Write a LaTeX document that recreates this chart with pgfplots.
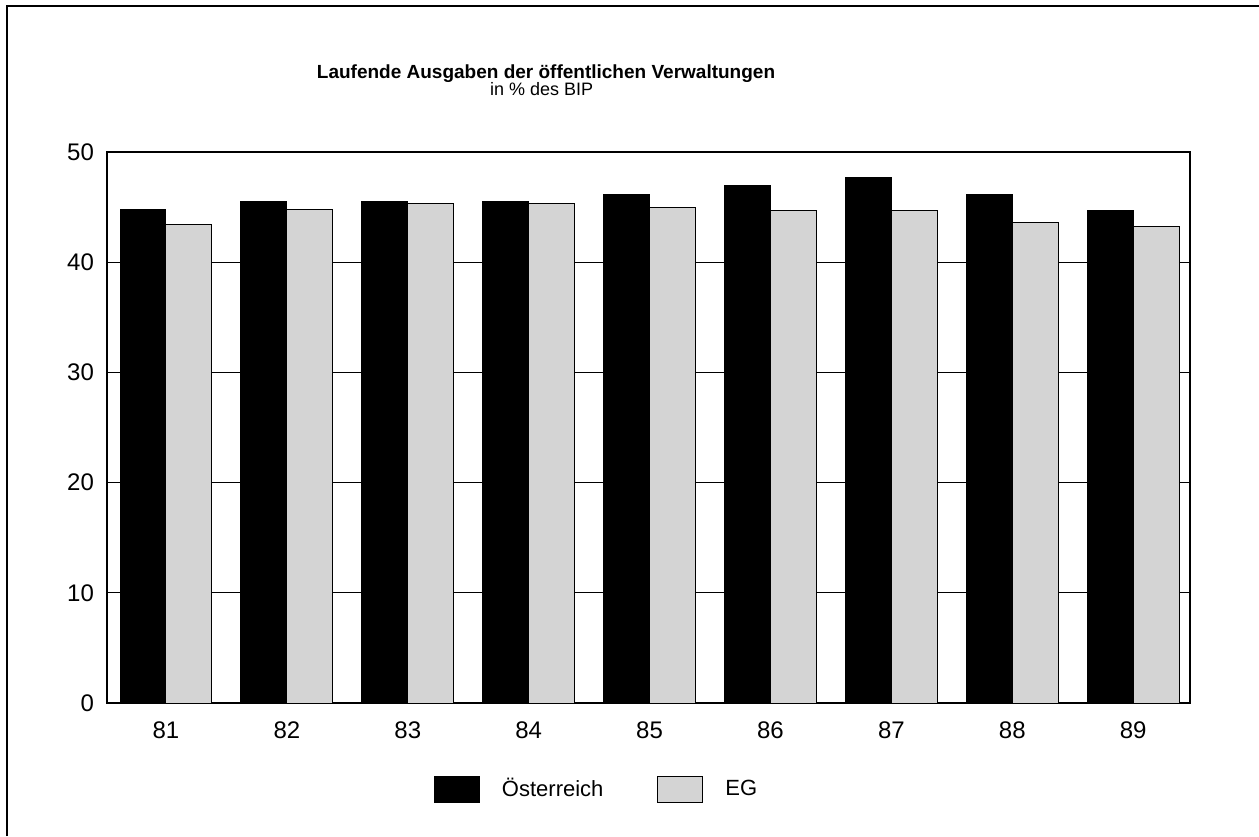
\documentclass[border=0pt]{standalone}
\usepackage{fontspec}
\setmainfont{Liberation Sans}
\usepackage{pgfplots}
\pgfplotsset{compat=1.18}
\begin{document}
\begin{tikzpicture}
\begin{axis}[
 scale only axis, width=541.5pt, height=275.5pt,
 at={(0,0)}, anchor=south west,
 ybar=0pt, bar width=0.38,
 xmin=-0.488, xmax=8.47, ymin=0, ymax=50,
 xtick={0,1,2,3,4,5,6,7,8},
 xticklabels={81,82,83,84,85,86,87,88,89},
 ytick={0,10,20,30,40,50},
 ymajorgrids, grid style={black, line width=0.5pt},
 major tick length=0pt,
 axis line style={line width=0.75pt},
 tick label style={font=\fontsize{12}{14}\selectfont},
 /pgf/number format/assume math mode=true,
 yticklabel style={xshift=-3pt},
 xticklabel style={yshift=-6pt},
 legend columns=2,
 legend style={at={(0.453,0)}, anchor=center, yshift=-43pt, draw=none,
   font=\fontsize{11}{13}\selectfont,
   /tikz/every even column/.append style={column sep=25pt},
   /tikz/every odd column/.append style={column sep=9pt}},
 legend image code/.code={\draw[#1] (0pt,-6.5pt) rectangle (22.5pt,6.5pt);},
]
\addplot[fill=black, draw=black, line width=0.5pt] coordinates {
 (0,44.8) (1,45.5) (2,45.5) (3,45.5) (4,46.1) (5,47.0) (6,47.7) (7,46.1) (8,44.7)};
\addlegendentry{Österreich}
\addplot[fill=black!17, draw=black, line width=0.5pt] coordinates {
 (0,43.4) (1,44.8) (2,45.3) (3,45.3) (4,45.0) (5,44.7) (6,44.7) (7,43.6) (8,43.2)};
\addlegendentry{EG}
\end{axis}
\draw[line width=0.6pt] (-50pt,-66.5pt) -- (-50pt,348.5pt) -- (576pt,348.5pt);
\node[font=\bfseries\fontsize{9.5}{11}\selectfont, anchor=base, inner sep=0pt] at (219.5pt,312pt) {Laufende Ausgaben der öffentlichen Verwaltungen};
\node[font=\fontsize{9}{11}\selectfont, anchor=base, inner sep=0pt] at (217.3pt,303.6pt) {in \% des BIP};
\pgfresetboundingbox
\path[use as bounding box] (-53.5pt,-66.5pt) rectangle (576pt,351.5pt);
\end{tikzpicture}
\end{document}
